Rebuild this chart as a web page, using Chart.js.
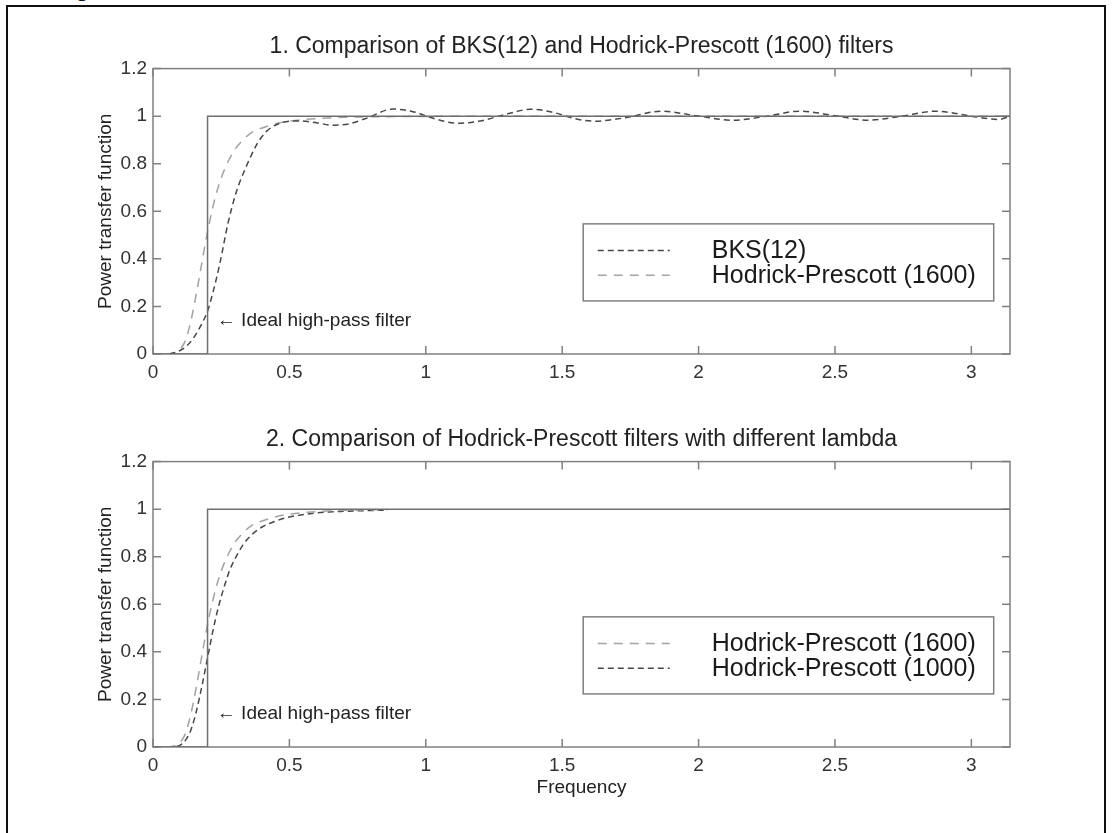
<!DOCTYPE html>
<html>
<head>
<meta charset="utf-8">
<title>BKS and Hodrick-Prescott power transfer functions</title>
<script src="https://cdn.jsdelivr.net/npm/chart.js@4.4.1/dist/chart.umd.min.js"></script>
<style>
  html, body { margin: 0; padding: 0; background: #fff; }
  body { width: 1112px; height: 833px; position: relative; overflow: hidden; font-family: "Liberation Sans", Arial, sans-serif; }
  .fig-label { position: absolute; left: 56px; top: -22px; font-size: 22px; line-height: 22px; font-weight: bold; color: #111; }
  .frame { position: absolute; left: 6px; top: 5px; width: 1100px; height: 900px; border: 2px solid #111; box-sizing: border-box; }
  canvas { position: absolute; left: 0; }
  #topChart { top: 0; }
  #bottomChart { top: 393px; }
</style>
</head>
<body>
<div class="fig-label">Figure</div>
<div class="frame"></div>
<canvas id="topChart" width="1112" height="400"></canvas>
<canvas id="bottomChart" width="1112" height="440"></canvas>
<script>
// values (frequency in radians, power transfer)
const freqMax = 3.1416;

const idealFreq = [0, 0.2, 0.2, 3.1416];
const idealPower = [0, 0, 1, 1];

const bksFreq = [0.06, 0.09, 0.12, 0.15, 0.18, 0.2, 0.22, 0.245, 0.275, 0.305, 0.335, 0.38, 0.415, 0.465,
  0.54, 0.6, 0.66, 0.72, 0.78, 0.88, 0.95, 1.03, 1.12, 1.2, 1.3, 1.385, 1.47, 1.545, 1.617, 1.74, 1.863,
  1.99, 2.127, 2.25, 2.372, 2.5, 2.62, 2.745, 2.868, 3.0, 3.1, 3.1416];
const bksPower = [0, 0.01, 0.03, 0.07, 0.13, 0.18, 0.26, 0.38, 0.55, 0.68, 0.77, 0.88, 0.935, 0.97,
  0.98, 0.972, 0.962, 0.968, 0.99, 1.03, 1.02, 0.99, 0.97, 0.98, 1.01, 1.029, 1.015, 0.99, 0.979, 0.995, 1.021,
  1.002, 0.983, 1.0, 1.021, 1.002, 0.983, 1.0, 1.021, 1.0, 0.986, 1.0];

const hpFreq = [0.05, 0.08, 0.1, 0.12, 0.14, 0.16, 0.18, 0.2, 0.22, 0.24, 0.26, 0.28, 0.3, 0.33, 0.36,
  0.4, 0.45, 0.5, 0.6, 0.7, 0.86, 1.0, 1.5, 2.0, 2.5, 3.1416];
const hp1600Power = [0, 0.005, 0.02, 0.06, 0.145, 0.26, 0.39, 0.515, 0.62, 0.705, 0.77, 0.82, 0.86, 0.9, 0.93,
  0.95, 0.968, 0.979, 0.99, 0.995, 0.998, 0.999, 1, 1, 1, 1];

// second panel: both HP curves stop near 0.86
const compFreq = [0.05, 0.08, 0.1, 0.12, 0.14, 0.16, 0.18, 0.2, 0.22, 0.24, 0.26, 0.28, 0.3, 0.33, 0.36,
  0.4, 0.45, 0.5, 0.6, 0.7, 0.86];
const hp1600Comp = [0, 0.005, 0.02, 0.06, 0.145, 0.26, 0.39, 0.515, 0.62, 0.705, 0.77, 0.82, 0.86, 0.9, 0.93,
  0.95, 0.968, 0.979, 0.99, 0.995, 0.998];
const hp1000Comp = [0, 0.002, 0.008, 0.03, 0.075, 0.155, 0.26, 0.375, 0.49, 0.59, 0.67, 0.74, 0.79, 0.85, 0.89,
  0.925, 0.95, 0.967, 0.984, 0.991, 0.996];

const xTicks = { stepSize: 0.5 };
const yTicks = { min: 0, max: 1.2, stepSize: 0.2 };

const FONT = '"Liberation Sans", Arial, Helvetica, sans-serif';
Chart.defaults.font.family = FONT;
Chart.defaults.color = "#333";

const toPoints = (xs, ys) => xs.map((x, i) => ({ x, y: ys[i] }));
// matlab prints 1 not 1.0
const plainTick = (value) => String(Math.round(value * 10) / 10);

const AXIS_GREY = "#808080";

// MATLAB style box with inward ticks on all four sides
const axesBox = {
  id: "axesBox",
  beforeDatasetsDraw(chart) {
    const { ctx, chartArea: a, scales: { x, y } } = chart;
    const len = 8;
    ctx.save();
    ctx.strokeStyle = AXIS_GREY;
    ctx.lineWidth = 1.5;
    ctx.strokeRect(a.left, a.top, a.right - a.left, a.bottom - a.top);
    ctx.beginPath();
    x.ticks.forEach((t) => {
      const px = x.getPixelForValue(t.value);
      ctx.moveTo(px, a.bottom); ctx.lineTo(px, a.bottom - len);
      ctx.moveTo(px, a.top); ctx.lineTo(px, a.top + len);
    });
    y.ticks.forEach((t) => {
      const py = y.getPixelForValue(t.value);
      ctx.moveTo(a.left, py); ctx.lineTo(a.left + len, py);
      ctx.moveTo(a.right, py); ctx.lineTo(a.right - len, py);
    });
    ctx.stroke();
    ctx.restore();
  }
};

const legendBox = {
  id: "legendBox",
  afterDraw(chart, args, opts) {
    const { ctx, chartArea: a } = chart;
    const w = a.right - a.left;
    const h = a.bottom - a.top;
    const x0 = a.left + opts.left * w;
    const x1 = a.left + opts.right * w;
    const y0 = a.top + opts.top * h;
    const y1 = a.top + opts.bottom * h;
    ctx.save();
    ctx.fillStyle = "#fff";
    ctx.fillRect(x0, y0, x1 - x0, y1 - y0);
    ctx.strokeStyle = AXIS_GREY;
    ctx.lineWidth = 1.5;
    ctx.strokeRect(x0, y0, x1 - x0, y1 - y0);
    opts.items.forEach((index, row) => {
      const ds = chart.data.datasets[index];
      const yy = a.top + opts.rows[row] * h;
      ctx.setLineDash(ds.borderDash || []);
      ctx.strokeStyle = ds.borderColor;
      ctx.lineWidth = ds.borderWidth;
      ctx.beginPath();
      ctx.moveTo(a.left + opts.sampleFrom * w, yy);
      ctx.lineTo(a.left + opts.sampleTo * w, yy);
      ctx.stroke();
      ctx.setLineDash([]);
      ctx.fillStyle = "#1a1a1a";
      ctx.font = `25px ${FONT}`;
      ctx.textBaseline = "middle";
      ctx.textAlign = "left";
      ctx.fillText(ds.label, a.left + opts.textAt * w, yy + 1);
    });
    ctx.restore();
  }
};

const noteText = {
  id: "noteText",
  afterDraw(chart, args, opts) {
    const { ctx, scales: { x, y } } = chart;
    ctx.save();
    ctx.fillStyle = "#222";
    ctx.font = `19px ${FONT}`;
    ctx.textBaseline = "middle";
    ctx.textAlign = "left";
    ctx.fillText(opts.text, x.getPixelForValue(opts.x), y.getPixelForValue(opts.y));
    ctx.restore();
  }
};

const makeScales = (withXTitle) => ({
  x: {
    type: "linear",
    min: 0,
    max: freqMax,
    grid: { display: false, drawTicks: false },
    border: { display: false },
    ticks: { stepSize: xTicks.stepSize, includeBounds: false, maxRotation: 0, padding: 7, color: "#333", font: { size: 19 }, callback: plainTick },
    title: withXTitle
      ? { display: true, text: "Frequency", color: "#222", font: { size: 19 }, padding: { top: 0, bottom: 34 } }
      : { display: false },
    afterFit: (scale) => { scale.height = withXTitle ? 86 : 46; }
  },
  y: {
    type: "linear",
    min: yTicks.min,
    max: yTicks.max,
    grid: { display: false, drawTicks: false },
    border: { display: false },
    ticks: { stepSize: yTicks.stepSize, padding: 6, color: "#333", font: { size: 19 }, callback: plainTick },
    title: { display: true, text: "Power transfer function", color: "#222", font: { size: 19 }, padding: { top: 94, bottom: 0 } },
    afterFit: (scale) => { scale.width = 153; }
  }
});

const legendPlace = {
  left: 0.502, right: 0.981, top: 0.544, bottom: 0.814,
  rows: [0.637, 0.724], sampleFrom: 0.519, sampleTo: 0.603, textAt: 0.652
};

const makeOptions = (title, withXTitle, legendItems) => ({
  responsive: false,
  animation: false,
  layout: { padding: { left: 0, right: 102, top: 0, bottom: 0 } },
  elements: { point: { radius: 0 } },
  scales: makeScales(withXTitle),
  plugins: {
    legend: { display: false },
    tooltip: { enabled: false },
    title: {
      display: true,
      text: title,
      fullSize: false,
      color: "#222",
      font: { size: 23, weight: "normal" },
      padding: { top: 33, bottom: 8 }
    },
    legendBox: { ...legendPlace, items: legendItems },
    noteText: { text: "\u2190 Ideal high-pass filter", x: 0.234, y: 0.14 }
  }
});

const idealSet = {
  label: "Ideal high-pass filter",
  data: toPoints(idealFreq, idealPower),
  showLine: true,
  borderColor: "#6e6e6e",
  borderWidth: 1.5,
  tension: 0
};

const curve = (label, xs, ys, color, dash) => ({
  label,
  data: toPoints(xs, ys),
  showLine: true,
  borderColor: color,
  borderWidth: 1.5,
  borderDash: dash,
  cubicInterpolationMode: "monotone"
});

const DARK = "#474747";
const LIGHT = "#a3a3a3";
const DARK_DASH = [6, 4];
const LIGHT_DASH = [9, 7];

new Chart(document.getElementById("topChart"), {
  type: "scatter",
  data: {
    datasets: [
      idealSet,
      curve("BKS(12)", bksFreq, bksPower, DARK, DARK_DASH),
      curve("Hodrick-Prescott (1600)", hpFreq, hp1600Power, LIGHT, LIGHT_DASH)
    ]
  },
  options: makeOptions("1. Comparison of BKS(12) and Hodrick-Prescott (1600) filters", false, [1, 2]),
  plugins: [axesBox, legendBox, noteText]
});

new Chart(document.getElementById("bottomChart"), {
  type: "scatter",
  data: {
    datasets: [
      { ...idealSet },
      curve("Hodrick-Prescott (1600)", compFreq, hp1600Comp, LIGHT, LIGHT_DASH),
      curve("Hodrick-Prescott (1000)", compFreq, hp1000Comp, DARK, DARK_DASH)
    ]
  },
  options: makeOptions("2. Comparison of Hodrick-Prescott filters with different lambda", true, [1, 2]),
  plugins: [axesBox, legendBox, noteText]
});
</script>
</body>
</html>
